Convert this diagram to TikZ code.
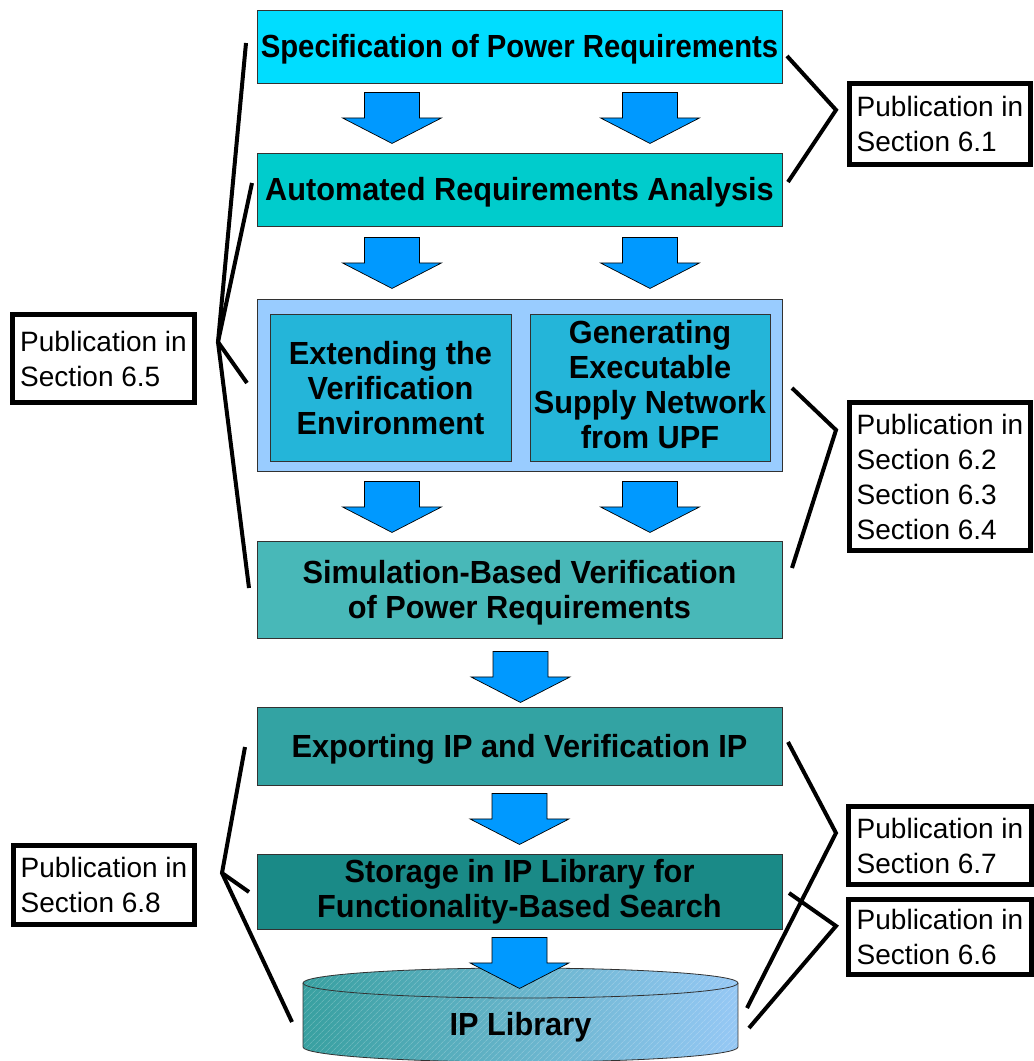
\documentclass[tikz,border=0pt]{standalone}
\usepackage{fontspec}
\setmainfont{Liberation Sans}
\newfontfamily\boxfont{Liberation Sans}[FakeStretch=0.96]
\newfontfamily\boxfontnarrow{Liberation Sans}[FakeStretch=0.915]
\usetikzlibrary{calc,patterns.meta}

\definecolor{specfill}{RGB}{0,221,255}
\definecolor{autofill}{RGB}{0,204,204}
\definecolor{groupfill}{RGB}{153,204,255}
\definecolor{innerfill}{RGB}{36,181,217}
\definecolor{simfill}{RGB}{72,184,184}
\definecolor{expfill}{RGB}{51,163,163}
\definecolor{stofill}{RGB}{26,138,135}
\definecolor{arrowfill}{RGB}{0,153,255}
\definecolor{libleft}{RGB}{56,160,160}
\definecolor{libright}{RGB}{150,200,245}
\definecolor{edge}{RGB}{50,50,50}

\begin{document}
\begin{tikzpicture}[x=1pt,y=-1pt,
  stagetext/.style={align=center,
    font=\boxfont\bfseries\fontsize{32}{35}\selectfont,
    execute at begin node={\rule{0pt}{#1}},
    execute at end node={\rule[-6.8pt]{0pt}{6.8pt}}},
  stagetext/.default=29pt,
  stage/.style={stagetext=#1, draw=edge, line width=0.9pt, inner sep=0pt},
  stage/.default=29pt,
  pub/.style={draw=black, line width=5pt, inner sep=0pt, align=left,
    font=\fontsize{28}{35}\selectfont},
  brace/.style={line width=4pt, line join=miter, line cap=butt},
  arrowshape/.style={draw=black, line width=0.7pt, fill=arrowfill},
  blockarrow/.pic={
    \draw[arrowshape] (-27.5,0) -- (27.5,0) -- (27.5,25.5) -- (49.5,25.5)
      -- (0,51) -- (-49.5,25.5) -- (-27.5,25.5) -- cycle;
  }
]
\useasboundingbox (0,0) rectangle (1034,1061);
\fill[white] (0,0) rectangle (1034,1061);

% process stages
\node[stage, fill=specfill, minimum width=525pt, minimum height=73pt,
      font=\boxfontnarrow\bfseries\fontsize{32}{35}\selectfont]
  (spec) at (519.5,46.5) {Specification of Power Requirements};
\node[stage, fill=autofill, minimum width=525pt, minimum height=73pt]
  (auto) at (519.5,189.5) {Automated Requirements Analysis};
\node[stage, fill=groupfill, minimum width=525pt, minimum height=172pt]
  (grp) at (519.5,385) {};
\node[stage=100pt, fill=innerfill, minimum width=241pt, minimum height=147pt]
  (inL) at (390.5,387.5) {Extending the\\Verification\\Environment};
\node[stage, fill=innerfill, minimum width=240pt, minimum height=147pt]
  (inR) at (650,387.5) {Generating\\Executable\\Supply Network\\from UPF};
\node[stage=64pt, fill=simfill, minimum width=525pt, minimum height=97pt]
  (sim) at (519.5,589.5) {Simulation-Based Verification\\of Power Requirements};
\node[stage, fill=expfill, minimum width=525pt, minimum height=78pt]
  (exp) at (519.5,746) {Exporting IP and Verification IP};
\node[stage, fill=stofill, minimum width=525pt, minimum height=75pt]
  (sto) at (519.5,891.5) {Storage in IP Library for\\Functionality-Based Search};

% IP library cylinder
\coordinate (libtop) at (520.5,983);
\shade[left color=libleft, right color=libright]
  (303,983) -- (303,1047) arc[start angle=180, end angle=360, x radius=217.5pt, y radius=15pt]
  -- (738,983) -- cycle;
\fill[pattern={Lines[angle=45, distance=4pt, line width=0.5pt]}, pattern color=white, opacity=0.3]
  (303,983) -- (303,1047) arc[start angle=180, end angle=360, x radius=217.5pt, y radius=15pt]
  -- (738,983) -- cycle;
\draw[edge, line width=0.8pt]
  (303,983) -- (303,1047) arc[start angle=180, end angle=360, x radius=217.5pt, y radius=15pt]
  -- (738,983);
\shade[left color=libleft, right color=libright] (libtop) ellipse[x radius=217.5pt, y radius=15pt];
\fill[pattern={Lines[angle=45, distance=4pt, line width=0.5pt]}, pattern color=white, opacity=0.3]
  (libtop) ellipse[x radius=217.5pt, y radius=15pt];
\draw[edge, line width=0.8pt] (libtop) ellipse[x radius=217.5pt, y radius=15pt];
\node[stagetext, inner sep=0pt] (lib) at (520.5,1024) {IP Library};

% flow arrows between stages
\pic at ($(inL |- spec.south)+(1.5,9)$) {blockarrow};
\pic at ($(inR |- spec.south)+(0,9)$) {blockarrow};
\pic at ($(inL |- auto.south)+(1.5,11)$) {blockarrow};
\pic at ($(inR |- auto.south)+(0,11)$) {blockarrow};
\pic at ($(inL |- grp.south)+(1.5,10)$) {blockarrow};
\pic at ($(inR |- grp.south)+(0,10)$) {blockarrow};
\pic at ($(sim.south)+(1,13)$) {blockarrow};
\pic at ($(exp.south)+(0,8)$) {blockarrow};
\pic at ($(sto.south)+(0,8)$) {blockarrow};

% publication boxes
\node[pub, minimum width=181pt, minimum height=81pt]  (p61) at (940,124)   {Publication in\\Section 6.1};
\node[pub, minimum width=182pt, minimum height=88pt]  (p65) at (103.5,358.5) {Publication in\\Section 6.5};
\node[pub, minimum width=181pt, minimum height=148pt] (p62) at (940,476.5) {Publication in\\Section 6.2\\Section 6.3\\Section 6.4};
\node[pub, minimum width=183pt, minimum height=78pt]  (p67) at (940,845.5) {Publication in\\Section 6.7};
\node[pub, minimum width=183pt, minimum height=75pt]  (p66) at (940,937)   {Publication in\\Section 6.6};
\node[pub, minimum width=181pt, minimum height=79pt]  (p68) at (104,885)   {Publication in\\Section 6.8};

% braces grouping stages by publication
\coordinate (b61)  at (836,110);
\coordinate (b61t) at (787,56);
\coordinate (b61b) at (788,182);
\draw[brace] (b61t) -- (b61) -- (b61b);

\coordinate (b62)  at (836,430);
\coordinate (b62t) at (792,388);
\coordinate (b62b) at (792,568);
\draw[brace] (b62t) -- (b62) -- (b62b);

\coordinate (b67)  at (836,833);
\coordinate (b67t) at (788,742);
\coordinate (b67b) at (747,1008);
\draw[brace] (b67t) -- (b67) -- (b67b);

\coordinate (b66)  at (836,926);
\coordinate (b66t) at (789,893);
\coordinate (b66b) at (749,1028);
\draw[brace] (b66t) -- (b66) -- (b66b);

\coordinate (b65)   at (218,342);
\coordinate (b65a)  at (246,43);
\coordinate (b65b)  at (252,183);
\coordinate (b65c)  at (247,383);
\coordinate (b65d)  at (249,588);
\draw[brace] (b65a) -- (b65) -- (b65d);
\draw[brace] (b65b) -- (b65) -- (b65c);

\coordinate (b68)  at (222,873);
\coordinate (b68a) at (245,747);
\coordinate (b68b) at (249,892);
\coordinate (b68c) at (292,1022);
\draw[brace] (b68a) -- (b68) -- (b68c);
\draw[brace] (b68) -- (b68b);
\end{tikzpicture}
\end{document}
